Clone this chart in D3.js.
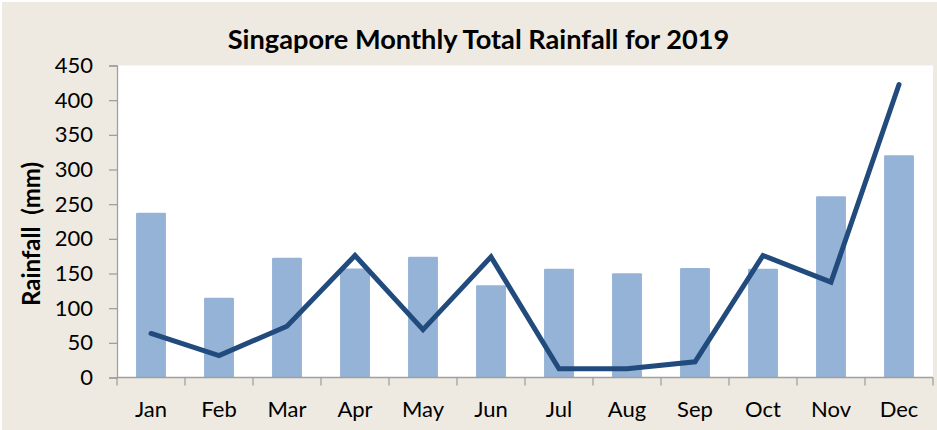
<!DOCTYPE html>
<html>
<head>
<meta charset="utf-8">
<script src="https://cdn.jsdelivr.net/npm/d3@7"></script>
<style>
  html, body { margin: 0; padding: 0; background: #ffffff; }
  svg { display: block; }
  text { font-family: Lato, "Open Sans", sans-serif; fill: #000; }
</style>
</head>
<body>
<svg id="chart" width="937" height="430"></svg>
<script>
// ---- data ----
const months = ["Jan","Feb","Mar","Apr","May","Jun","Jul","Aug","Sep","Oct","Nov","Dec"];
const barValues = [237.5, 115, 172.6, 157.2, 174, 133, 157, 150.5, 158, 157, 261.5, 320.6];
const lineValues = [63.5, 31.7, 74, 176, 69, 174, 12.5, 12.5, 22.6, 176, 137.5, 422.6];
const yTicks = [0, 50, 100, 150, 200, 250, 300, 350, 400, 450];
const titleText = "Singapore Monthly Total Rainfall for 2019";
const yLabelText = "Rainfall\u00a0\u00a0(mm)";

// ---- layout ----
const W = 937, H = 430;
const plot = { left: 117, right: 933, top: 65.5, bottom: 377.5 };
const svg = d3.select("#chart");

svg.append("rect").attr("x", 2).attr("y", 2).attr("width", W - 2).attr("height", H - 2)
  .attr("fill", "#EEEAE1");
svg.append("rect").attr("x", plot.left).attr("y", plot.top)
  .attr("width", plot.right - plot.left).attr("height", plot.bottom - plot.top)
  .attr("fill", "#ffffff");

const x = d3.scaleBand().domain(months).range([plot.left, plot.right])
  .paddingInner(0.56).paddingOuter(0.28);
const xEdge = d3.scaleLinear().domain([0, months.length]).range([plot.left, plot.right]);
const y = d3.scaleLinear().domain([0, 450]).range([plot.bottom, plot.top]);

// bars
svg.append("g").selectAll("rect").data(barValues).join("rect")
  .attr("x", (d, i) => x(months[i]))
  .attr("y", d => y(d))
  .attr("width", x.bandwidth())
  .attr("height", d => y(0) - y(d))
  .attr("rx", 1.2)
  .attr("fill", "#95B3D7");

// line
const line = d3.line()
  .x((d, i) => x(months[i]) + x.bandwidth() / 2)
  .y(d => y(d));
svg.append("path").datum(lineValues)
  .attr("d", line)
  .attr("fill", "none")
  .attr("stroke", "#224B7D")
  .attr("stroke-width", 5)
  .attr("stroke-linejoin", "miter")
  .attr("stroke-linecap", "round");

// y axis
const yAxis = d3.axisLeft(y).tickValues(yTicks).tickSize(8).tickPadding(16)
  .tickFormat(d3.format("d"));
const gy = svg.append("g").attr("transform", `translate(${plot.left},0)`).call(yAxis);
gy.select(".domain").attr("stroke", "#A0A0A0").attr("stroke-width", 1.3);
gy.selectAll(".tick line").attr("stroke", "#A0A0A0").attr("stroke-width", 1.3);
gy.selectAll(".tick text").attr("font-family", "Lato").attr("font-size", 22).attr("fill", "#000");

// x axis: labels at centers, ticks at band edges
const xAxis = d3.axisBottom(x).tickSize(0).tickPadding(24);
const gx = svg.append("g").attr("transform", `translate(0,${plot.bottom})`).call(xAxis);
gx.select(".domain").remove();
gx.selectAll(".tick text").attr("font-family", "Lato").attr("font-size", 22).attr("fill", "#000");

const edges = d3.range(months.length + 1);
svg.append("g").selectAll("line").data(edges).join("line")
  .attr("x1", d => xEdge(d)).attr("x2", d => xEdge(d))
  .attr("y1", plot.bottom).attr("y2", plot.bottom + 8)
  .attr("stroke", "#A0A0A0").attr("stroke-width", 1.3);
svg.append("line").attr("x1", plot.left).attr("x2", plot.right)
  .attr("y1", plot.bottom).attr("y2", plot.bottom)
  .attr("stroke", "#A0A0A0").attr("stroke-width", 1.3);

// title
svg.append("text").attr("x", 478.5).attr("y", 48.5)
  .attr("text-anchor", "middle").attr("font-weight", "bold").attr("font-size", 27.2)
  .text(titleText);

// y label
svg.append("text").attr("transform", "translate(40,234) rotate(-90)")
  .attr("text-anchor", "middle").attr("font-weight", "bold").attr("font-size", 24)
  .text(yLabelText);
</script>
</body>
</html>
